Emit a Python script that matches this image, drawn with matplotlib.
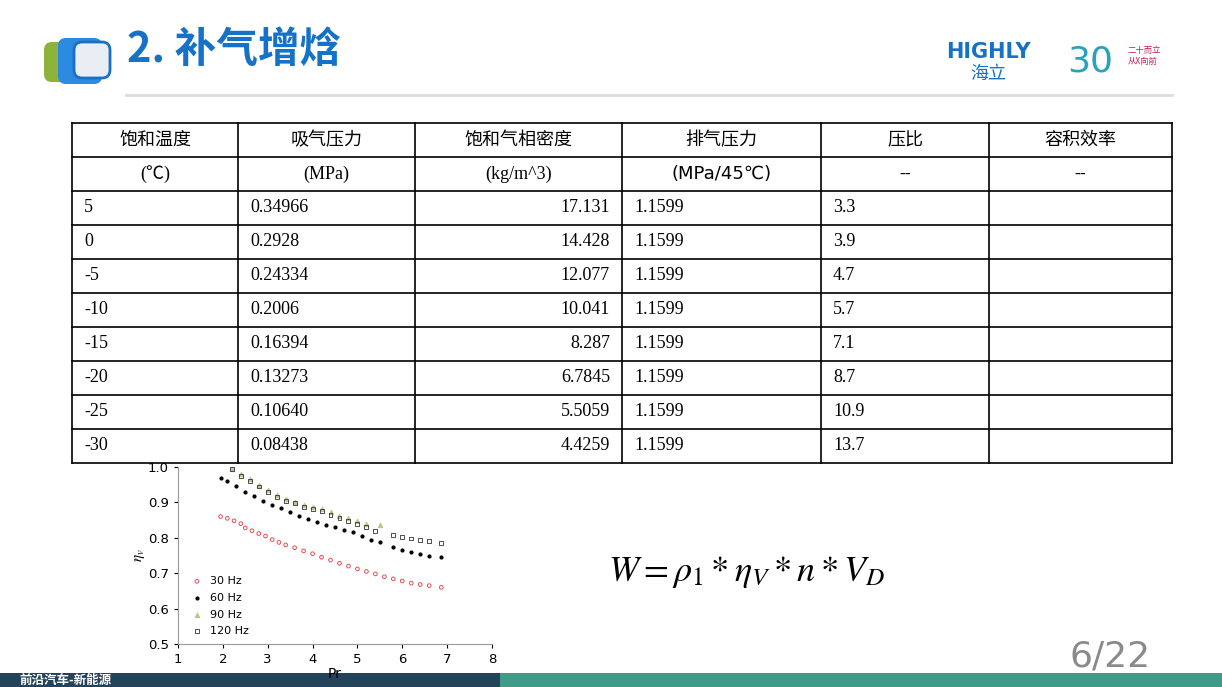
import matplotlib.pyplot as plt
from matplotlib.patches import Rectangle, FancyBboxPatch
import matplotlib as mpl

mpl.rcParams['mathtext.fontset'] = 'stix'

# table data
headers = ["饱和温度", "吸气压力", "饱和气相密度", "排气压力", "压比", "容积效率"]
units = ["(℃)", "(MPa)", "(kg/m^3)", "(MPa/45℃)", "--", "--"]
temps = ["5", "0", "-5", "-10", "-15", "-20", "-25", "-30"]
suction = ["0.34966", "0.2928", "0.24334", "0.2006", "0.16394", "0.13273", "0.10640", "0.08438"]
density = ["17.131", "14.428", "12.077", "10.041", "8.287", "6.7845", "5.5059", "4.4259"]
discharge = ["1.1599"] * 8
ratio = ["3.3", "3.9", "4.7", "5.7", "7.1", "8.7", "10.9", "13.7"]

# chart data
pr30 = [1.95, 2.1, 2.25, 2.4, 2.5, 2.65, 2.8, 2.95, 3.1, 3.25, 3.4, 3.6, 3.8, 4.0, 4.2, 4.4,
        4.6, 4.8, 5.0, 5.2, 5.4, 5.6, 5.8, 6.0, 6.2, 6.4, 6.6, 6.87]
eta30 = [.86, .855, .848, .84, .828, .82, .812, .805, .795, .787, .78, .772, .763, .755, .745, .737,
         .728, .72, .712, .705, .698, .69, .684, .678, .672, .668, .665, .66]
pr60 = [1.95, 2.1, 2.3, 2.5, 2.7, 2.9, 3.1, 3.3, 3.5, 3.7, 3.9, 4.1, 4.3, 4.5, 4.7, 4.9, 5.1,
        5.3, 5.5, 5.8, 6.0, 6.2, 6.4, 6.6, 6.87]
eta60 = [.97, .96, .945, .93, .918, .905, .893, .883, .872, .862, .853, .845, .837, .83, .823, .815, .805,
         .795, .787, .775, .765, .76, .755, .75, .745]
pr90 = [2.2, 2.4, 2.6, 2.8, 3.0, 3.2, 3.4, 3.6, 3.8, 4.0, 4.2, 4.4, 4.6, 4.8, 5.0, 5.2, 5.5]
eta90 = [.995, .98, .965, .95, .935, .92, .91, .9, .893, .887, .88, .872, .862, .855, .848, .84, .835]
pr120 = [2.2, 2.4, 2.6, 2.8, 3.0, 3.2, 3.4, 3.6, 3.8, 4.0, 4.2, 4.4, 4.6, 4.8, 5.0, 5.2, 5.4,
         5.8, 6.0, 6.2, 6.4, 6.6, 6.87]
eta120 = [.995, .975, .96, .945, .93, .915, .905, .897, .888, .882, .875, .865, .855, .848, .84, .83, .82,
          .808, .803, .798, .793, .79, .785]

cjk = "Noto Sans CJK SC"
serif = "Liberation Serif"

fig = plt.figure(figsize=(12.22, 6.87), dpi=100)
bg = fig.add_axes([0, 0, 1, 1])
bg.set_xlim(0, 1222)
bg.set_ylim(687, 0)
bg.axis('off')

# header
bg.add_patch(FancyBboxPatch((46, 44), 36, 36, boxstyle="round,pad=2,rounding_size=8",
                            fc="#8db33a", ec="none"))
bg.add_patch(FancyBboxPatch((60, 40), 40, 42, boxstyle="round,pad=2,rounding_size=8",
                            fc="#2c8be0", ec="none"))
bg.add_patch(FancyBboxPatch((76, 44), 32, 32, boxstyle="round,pad=2,rounding_size=8",
                            fc="#e8eef4", ec="#1a6fc4", lw=2))
bg.text(127, 50, "2. 补气增焓", fontsize=30, fontweight='heavy', color="#1572c6",
        family=cjk, va='center')
bg.plot([126, 1172], [95, 95], color="#dddddd", lw=2)
bg.text(988, 52, "HIGHLY", fontsize=15, fontweight='bold', color="#1572c6", ha='center', va='center')
bg.text(988, 74, "海立", fontsize=13, color="#1572c6", family=cjk, ha='center', va='center')
bg.text(1090, 62, "30", fontsize=26, color="#2aa3b8", ha='center', va='center')
bg.text(1128, 56, "二十而立\n从X向前", fontsize=6, color="#c2185b", family=cjk, va='center')

# table
cols = [72, 238, 415, 622, 821, 989, 1172]
top, rh = 123, 34
nrows = 2 + len(temps)
for x in cols:
    bg.plot([x, x], [top, top + nrows * rh], color='black', lw=1.2)
for r in range(nrows + 1):
    bg.plot([cols[0], cols[-1]], [top + r * rh, top + r * rh], color='black', lw=1.2)
for c in range(6):
    cx = (cols[c] + cols[c + 1]) / 2
    bg.text(cx, top + rh / 2, headers[c], family=cjk, fontsize=13, ha='center', va='center')
    fam = [serif, cjk] if "℃" in units[c] else serif
    if c == 3:
        fam = ["DejaVu Sans", cjk]
    bg.text(cx, top + 1.5 * rh, units[c], family=fam, fontsize=13, ha='center', va='center')
body = [temps, suction, density, discharge, ratio]
for i in range(len(temps)):
    y = top + (i + 2.5) * rh
    for c, colvals in enumerate(body):
        if c == 2:
            bg.text(cols[c + 1] - 12, y, colvals[i], family=serif, fontsize=13, ha='right', va='center')
        else:
            bg.text(cols[c] + 12, y, colvals[i], family=serif, fontsize=13, ha='left', va='center')

# formula and page number
bg.text(608, 572, r"$W=\rho_1*\eta_V*n*V_D$", fontsize=26, va='center')
bg.text(1110, 656, "6/22", fontsize=26, color="#8a8a8a", ha='center', va='center')

# bottom bar
bg.add_patch(Rectangle((0, 673), 500, 14, fc="#23435a", ec='none'))
bg.add_patch(Rectangle((500, 673), 722, 14, fc="#3f9b86", ec='none'))
bg.text(20, 680, "前沿汽车-新能源", family=cjk, fontsize=9, color='white', va='center', fontweight='bold')

# chart
ax = fig.add_axes([178 / 1222, 43 / 687, 314 / 1222, 177 / 687])
ax.scatter(pr30, eta30, s=7, facecolors='none', edgecolors='#e0505a', lw=0.7, label="30 Hz")
ax.scatter(pr60, eta60, s=4, color='black', label="60 Hz")
ax.scatter(pr90, eta90, s=8, marker='^', color='#b8c88a', label="90 Hz")
ax.scatter(pr120, eta120, s=8, marker='s', facecolors='none', edgecolors='#333333', lw=0.6, label="120 Hz")
ax.set_xlim(1, 8)
ax.set_ylim(0.5, 1.0)
ax.set_xticks(range(1, 9))
ax.set_yticks([0.5, 0.6, 0.7, 0.8, 0.9, 1.0])
ax.set_yticklabels(["0.5", "0.6", "0.7", "0.8", "0.9", "1.0"])
ax.tick_params(labelsize=9.5, length=3)
for s in ['top', 'right']:
    ax.spines[s].set_visible(False)
ax.spines['left'].set_color('#999999')
ax.spines['bottom'].set_color('#999999')
ax.set_xlabel("Pr", fontsize=10, labelpad=1)
ax.set_ylabel(r"$\eta_v$", fontsize=11, labelpad=1)
ax.legend(loc='lower left', bbox_to_anchor=(0.0, 0.0), frameon=False, fontsize=8,
          handletextpad=0.2, labelspacing=0.6, borderaxespad=0.3)

fig.savefig("out.png", dpi=100)
